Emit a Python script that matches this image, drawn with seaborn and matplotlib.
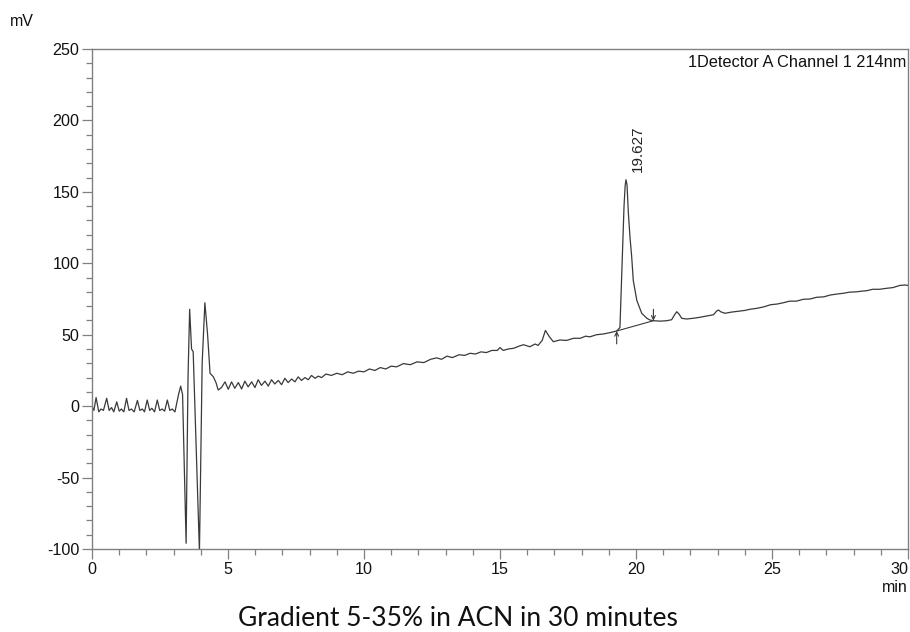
import matplotlib
matplotlib.use("Agg")
import matplotlib.pyplot as plt
import seaborn as sns
import pandas as pd
from matplotlib.ticker import MultipleLocator

# ---- data ----
time_min = [
    0.00, 0.07, 0.15, 0.25, 0.33, 0.42, 0.54, 0.63, 0.72, 0.80, 0.91, 1.00, 1.08, 1.17,
    1.27, 1.36, 1.45, 1.55, 1.67, 1.76, 1.85, 1.93, 2.03, 2.12, 2.20, 2.30, 2.40, 2.49,
    2.58, 2.67, 2.77, 2.86, 2.95, 3.05, 3.18, 3.26, 3.33, 3.46, 3.53, 3.59, 3.66, 3.72,
    3.95, 4.05, 4.15, 4.25, 4.34, 4.46, 4.56, 4.64, 4.76, 4.89, 5.01,
    5.13, 5.25, 5.38, 5.50, 5.62, 5.74, 5.87, 5.99, 6.11, 6.23, 6.36, 6.48, 6.60, 6.72,
    6.85, 6.97, 7.09, 7.21, 7.34, 7.46, 7.58, 7.70, 7.83, 7.95, 8.07, 8.20, 8.32, 8.44,
    8.60, 8.80, 9.00, 9.20, 9.40, 9.60, 9.80, 10.00, 10.20, 10.40, 10.60, 10.80, 11.00,
    11.20, 11.45, 11.70, 11.95, 12.20, 12.45, 12.67, 12.85, 13.05, 13.25, 13.50, 13.70,
    13.90, 14.10, 14.30, 14.50, 14.70, 14.90, 15.00, 15.12, 15.30, 15.50, 15.70, 15.86,
    16.10, 16.29, 16.40, 16.55, 16.67, 16.80, 16.96, 17.20, 17.45, 17.70, 17.95, 18.15,
    18.30, 18.55, 18.80, 19.05, 19.29, 19.41, 19.50, 19.56, 19.60, 19.63, 19.67, 19.72,
    19.78, 19.84, 19.90, 20.03, 20.21, 20.40, 20.51, 20.64, 20.90, 21.13, 21.31, 21.42,
    21.50, 21.58, 21.68, 21.86, 22.10, 22.35, 22.60, 22.85, 22.96, 23.03, 23.12, 23.27,
    23.50, 23.80, 24.00, 24.19, 24.45, 24.70, 24.95, 25.20, 25.42, 25.65, 25.90, 26.15,
    26.40, 26.64, 26.90, 27.15, 27.40, 27.62, 27.85, 28.10, 28.30, 28.48, 28.70, 28.95,
    29.22, 29.45, 29.70, 29.89, 30.00,
]
signal_mv = [
    0.0, -3.0, 6.0, -4.0, -2.0, -3.0, 5.5, -3.0, -1.0, -4.0, 3.0, -3.5, -2.0, -4.0,
    5.5, -3.0, -2.0, -4.0, 4.0, -3.0, -2.0, -4.0, 4.3, -3.0, -1.5, -4.0, 4.3, -3.0,
    -2.0, -3.5, 4.3, -3.0, -2.0, -4.0, 8.0, 14.0, 8.0, -96.0, 20.0, 67.8, 40.0, 38.0,
    -102.0, 30.0, 72.4, 50.0, 23.0, 20.6, 16.4, 11.3, 13.0, 17.0, 11.8,
    17.0, 12.5, 16.5, 12.0, 17.5, 13.5, 17.0, 13.0, 18.5, 14.5, 17.5, 14.0, 18.5, 15.5,
    18.0, 15.0, 19.5, 16.5, 19.0, 17.0, 20.5, 18.0, 20.0, 18.5, 21.5, 19.5, 21.0, 20.0,
    22.5, 21.5, 23.0, 22.0, 24.0, 23.0, 24.5, 24.0, 26.0, 25.0, 27.0, 26.0, 28.0,
    27.5, 29.8, 29.0, 31.0, 30.5, 32.8, 33.8, 32.8, 35.0, 34.0, 36.0, 35.5,
    37.0, 36.5, 38.0, 37.5, 39.0, 39.0, 41.0, 39.0, 40.0, 40.5, 42.0, 43.0,
    41.6, 43.5, 42.5, 46.0, 53.0, 49.0, 45.1, 46.3, 46.0, 47.5, 47.5, 49.0,
    48.5, 50.0, 50.5, 51.5, 52.6, 55.0, 107.0, 140.0, 154.0, 158.5, 155.0, 135.0,
    118.0, 105.0, 88.0, 74.0, 65.0, 61.5, 60.3, 59.8, 59.5, 59.8, 60.5, 64.0,
    66.1, 64.5, 61.5, 61.0, 61.5, 62.2, 63.1, 64.0, 66.5, 67.3, 66.0, 65.0,
    65.8, 66.5, 67.0, 67.8, 68.5, 69.5, 71.0, 71.5, 72.4, 73.5, 73.5, 74.8,
    75.0, 76.2, 76.5, 77.8, 78.5, 79.0, 79.8, 80.0, 80.5, 80.8, 81.8, 81.8,
    82.5, 83.0, 84.5, 84.8, 84.5,
]

# integration baseline of the main peak
baseline_t = [19.29, 20.64]
baseline_mv = [52.6, 59.8]
peak_rt = 19.627
peak_label = "19.627"

x_ticks = [0, 5, 10, 15, 20, 25, 30]
y_ticks = [-100, -50, 0, 50, 100, 150, 200, 250]

# ---- style ----
sns.set_style("ticks")
plt.rcParams["font.family"] = ["Liberation Sans", "DejaVu Sans"]
plt.rcParams["axes.unicode_minus"] = False

fig = plt.figure(figsize=(9.10, 6.32), dpi=100)
ax = fig.add_axes([92 / 910, 83 / 632, 816 / 910, 500 / 632])

df = pd.DataFrame({"t": time_min, "mv": signal_mv})
trace_col = "#3a3a3a"
sns.lineplot(data=df, x="t", y="mv", ax=ax, color=trace_col, linewidth=0.9,
             sort=False, estimator=None)
sns.lineplot(x=baseline_t, y=baseline_mv, ax=ax, color=trace_col, linewidth=0.8,
             estimator=None)

# start / end markers of integration
arr = dict(arrowstyle="->", color=trace_col, lw=0.8, mutation_scale=7, shrinkA=0, shrinkB=0)
ax.annotate("", xy=(baseline_t[0], baseline_mv[0]), xytext=(baseline_t[0], baseline_mv[0] - 9),
            arrowprops=arr)
ax.annotate("", xy=(baseline_t[1], baseline_mv[1]), xytext=(baseline_t[1], baseline_mv[1] + 8),
            arrowprops=arr)

ax.text(peak_rt + 0.44, 164, peak_label, rotation=90, ha="center", va="bottom",
        fontsize=11, color="#222222")

ax.set_xlim(0, 30)
ax.set_ylim(-100, 250)
ax.set_xticks(x_ticks)
ax.set_yticks(y_ticks)
ax.xaxis.set_minor_locator(MultipleLocator(1))
ax.yaxis.set_minor_locator(MultipleLocator(10))
ax.set_xlabel("")
ax.set_ylabel("")

spine_col = "#808080"
for s in ax.spines.values():
    s.set_visible(True)
    s.set_color(spine_col)
    s.set_linewidth(1.0)
ax.tick_params(axis="both", which="major", length=7, width=0.9, color=spine_col,
               labelsize=11.6, labelcolor="#111111", direction="out", pad=2)
ax.tick_params(axis="both", which="minor", length=4, width=0.9, color=spine_col,
               direction="out")
ax.tick_params(top=False, right=False, which="both")
xlabels = ax.get_xticklabels()
xlabels[-1].set_horizontalalignment("right")

ax.text(0.998, 0.988, "1Detector A Channel 1 214nm", transform=ax.transAxes,
        ha="right", va="top", fontsize=11.8, color="#111111")

fig.text(10 / 910, 1 - 21 / 632, "mV", ha="left", va="center", fontsize=11.5, color="#111111")
fig.text(908 / 910, 1 - 588 / 632, "min", ha="right", va="center", fontsize=11.5, color="#111111")

fig.text(458 / 910, 1 - 618 / 632, "Gradient 5-35% in ACN in 30 minutes",
         ha="center", va="center", fontsize=19, family=["Lato", "DejaVu Sans"],
         color="#111111")

fig.savefig("out.png", dpi=100, facecolor="white")
